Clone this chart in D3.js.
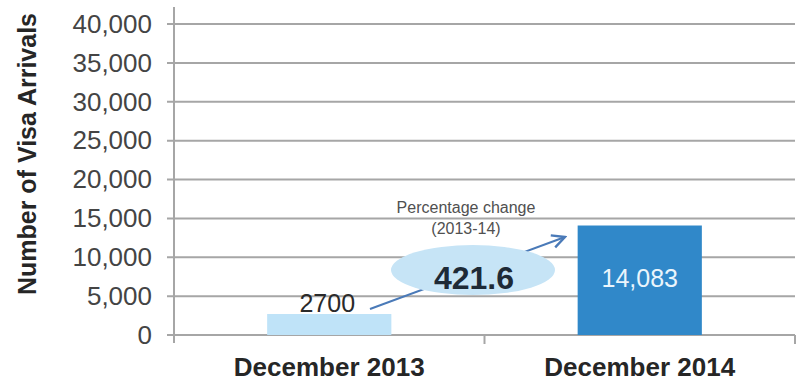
<!DOCTYPE html>
<html>
<head>
<meta charset="utf-8">
<script src="https://cdn.jsdelivr.net/npm/d3@7"></script>
<style>
  body { margin: 0; background: #fff; }
  text { font-family: "Liberation Sans", Arial, sans-serif; }
</style>
</head>
<body>
<div id="chart"></div>
<script>
// visa arrivals, December of each year
var periods = ["December 2013", "December 2014"];
var arrivals = [2700, 14083];
var valueLabels = ["2700", "14,083"];
var yTicks = [0, 5000, 10000, 15000, 20000, 25000, 30000, 35000, 40000];
var pctChange = "421.6";

const width = 806, height = 385;
const margin = {top: 24, right: 11, bottom: 50, left: 174};

const svg = d3.select("#chart")
  .append("svg")
    .attr("width", width)
    .attr("height", height);

const x = d3.scaleBand()
  .domain(periods)
  .range([margin.left, width - margin.right])
  .paddingInner(0.6)
  .paddingOuter(0.3);

const y = d3.scaleLinear()
  .domain([0, 40000])
  .range([height - margin.bottom, margin.top]);

// gridlines
svg.append("g")
  .selectAll("line")
  .data(yTicks)
  .join("line")
    .attr("x1", margin.left - 7)
    .attr("x2", width - margin.right)
    .attr("y1", d => y(d))
    .attr("y2", d => y(d))
    .attr("stroke", "#a6a6a6")
    .attr("stroke-width", 2);

// y axis line
svg.append("line")
  .attr("x1", margin.left).attr("x2", margin.left)
  .attr("y1", 7).attr("y2", y(0) + 8)
  .attr("stroke", "#a6a6a6")
  .attr("stroke-width", 2);

// x axis ticks at band edges
const step = x.step();
const edges = [margin.left, margin.left + x.paddingOuter() * step + x.bandwidth() + x.paddingInner() * step / 2, width - margin.right];
svg.append("g")
  .selectAll("line")
  .data(edges.slice(1))
  .join("line")
    .attr("x1", d => d).attr("x2", d => d)
    .attr("y1", y(0)).attr("y2", y(0) + 9)
    .attr("stroke", "#a6a6a6")
    .attr("stroke-width", 2);

// y tick labels
const yAxis = d3.axisLeft(y)
  .tickValues(yTicks)
  .tickFormat(d3.format(","))
  .tickSize(0)
  .tickPadding(22);
svg.append("g")
  .attr("transform", `translate(${margin.left},0)`)
  .call(yAxis)
  .call(g => g.select(".domain").remove())
  .selectAll("text")
    .attr("font-family", "Liberation Sans, Arial, sans-serif")
    .attr("font-size", 26)
    .attr("fill", "#444");

// x labels
svg.append("g")
  .selectAll("text")
  .data(periods)
  .join("text")
    .attr("x", d => x(d) + x.bandwidth() / 2)
    .attr("y", 376)
    .attr("text-anchor", "middle")
    .attr("font-size", 26)
    .attr("font-weight", "bold")
    .attr("fill", "#262626")
    .text(d => d);

// y title
svg.append("text")
  .attr("transform", "translate(36,154) rotate(-90)")
  .attr("text-anchor", "middle")
  .attr("font-size", 25)
  .attr("font-weight", "bold")
  .attr("fill", "#262626")
  .text("Number of Visa Arrivals");

// bars
const barColors = ["#bfe3f8", "#3088c9"];
svg.append("g")
  .selectAll("rect")
  .data(arrivals)
  .join("rect")
    .attr("x", (d, i) => x(periods[i]))
    .attr("width", x.bandwidth())
    .attr("y", d => y(d))
    .attr("height", d => y(0) - y(d))
    .attr("fill", (d, i) => barColors[i]);

// value labels
const cx0 = x(periods[0]) + x.bandwidth() / 2;
const cx1 = x(periods[1]) + x.bandwidth() / 2;
svg.append("text")
  .attr("x", cx0 - 2).attr("y", y(arrivals[0]) - 2)
  .attr("text-anchor", "middle")
  .attr("font-size", 25)
  .attr("fill", "#2a2a2a")
  .text(valueLabels[0]);
svg.append("text")
  .attr("x", cx1).attr("y", 287)
  .attr("text-anchor", "middle")
  .attr("font-size", 25)
  .attr("fill", "#eaf5fc")
  .text(valueLabels[1]);

// arrow
svg.append("defs").append("marker")
  .attr("id", "arrow")
  .attr("viewBox", "0 0 10 10")
  .attr("refX", 9).attr("refY", 5)
  .attr("markerWidth", 8).attr("markerHeight", 8)
  .attr("orient", "auto")
  .append("path")
    .attr("d", "M1,1 L9,5 L1,9")
    .attr("fill", "none")
    .attr("stroke", "#4a7ab8")
    .attr("stroke-width", 1.5);

svg.append("line")
  .attr("x1", 370).attr("y1", 309)
  .attr("x2", 565).attr("y2", 237)
  .attr("stroke", "#4a7ab8")
  .attr("stroke-width", 2)
  .attr("marker-end", "url(#arrow)");

// percentage change bubble
svg.append("ellipse")
  .attr("cx", 473).attr("cy", 270)
  .attr("rx", 82).attr("ry", 25)
  .attr("fill", "#c6e4f6");

svg.append("text")
  .attr("x", 474).attr("y", 289)
  .attr("text-anchor", "middle")
  .attr("font-size", 32)
  .attr("font-weight", "bold")
  .attr("fill", "#1e2a36")
  .text(pctChange);

svg.append("text")
  .attr("x", 466).attr("y", 213)
  .attr("text-anchor", "middle")
  .attr("font-size", 16)
  .attr("fill", "#505050")
  .text("Percentage change");
svg.append("text")
  .attr("x", 466).attr("y", 234)
  .attr("text-anchor", "middle")
  .attr("font-size", 16)
  .attr("fill", "#505050")
  .text("(2013-14)");
</script>
</body>
</html>
